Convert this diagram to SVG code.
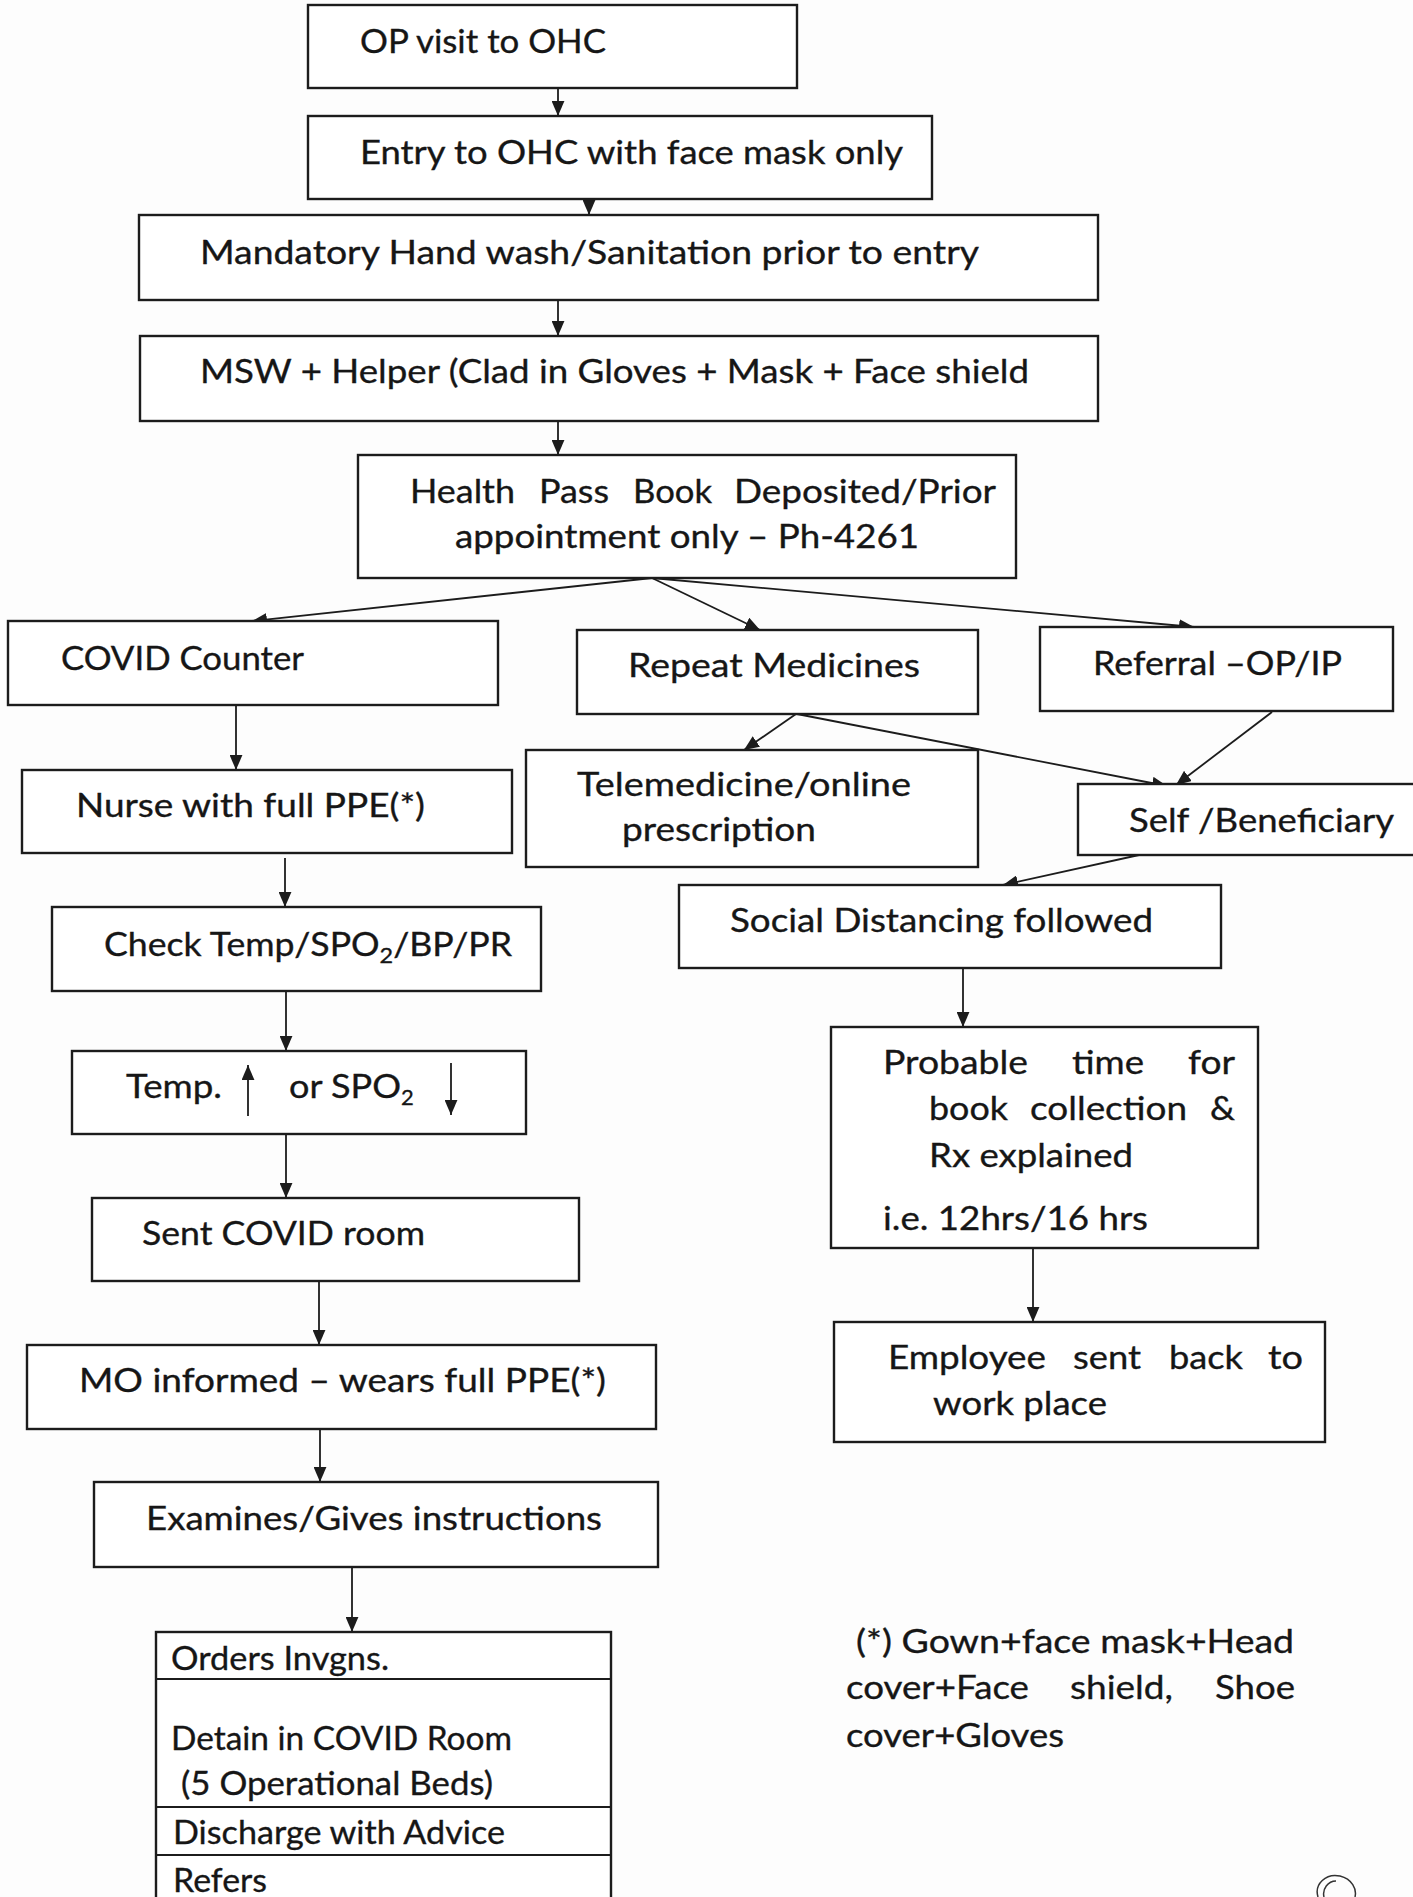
<svg xmlns="http://www.w3.org/2000/svg" width="1413" height="1897" viewBox="0 0 1413 1897">
<defs>
<marker id="ah" viewBox="0 0 14 12" markerWidth="15" markerHeight="13" refX="14" refY="6" orient="auto" markerUnits="userSpaceOnUse">
<path d="M0,0 L14,6 L0,12 z" fill="#1c1c1c"/>
</marker>
<style>
.box{fill:#fff;stroke:#1c1c1c;stroke-width:2.4}
.ln{fill:none;stroke:#1c1c1c;stroke-width:2}
.t{font-family:Lato,"Liberation Sans",sans-serif;font-size:33.5px;fill:#161616;stroke:#161616;stroke-width:0.35}
.c{fill:none;stroke:#1c1c1c;stroke-width:1.8;marker-end:url(#ah)}
</style>
</defs>
<rect x="0" y="0" width="1413" height="1897" fill="#fdfdfd"/>
<ellipse cx="667" cy="17" rx="1.2" ry="3" fill="#c8864a"/>

<g id="connectors">
<line class="c" x1="558" y1="88" x2="558" y2="116"/>
<line class="c" x1="589" y1="199" x2="589" y2="215"/>
<line class="c" x1="558" y1="300" x2="558" y2="336"/>
<line class="c" x1="558" y1="421" x2="558" y2="455"/>
<line class="c" x1="652" y1="578" x2="252" y2="621"/>
<line class="c" x1="652" y1="578" x2="760" y2="630"/>
<line class="c" x1="652" y1="578" x2="1194" y2="627"/>
<line class="c" x1="236" y1="705" x2="236" y2="770"/>
<line class="c" x1="796" y1="714" x2="744" y2="750"/>
<line class="c" x1="797" y1="714" x2="1167" y2="786"/>
<line class="c" x1="1272" y1="712" x2="1176" y2="785"/>
<line class="c" x1="1139" y1="855" x2="1003" y2="885"/>
<line class="c" x1="285" y1="858" x2="285" y2="907"/>
<line class="c" x1="286" y1="991" x2="286" y2="1051"/>
<line class="c" x1="286" y1="1134" x2="286" y2="1198"/>
<line class="c" x1="319" y1="1281" x2="319" y2="1345"/>
<line class="c" x1="320" y1="1429" x2="320" y2="1482"/>
<line class="c" x1="352" y1="1567" x2="352" y2="1632"/>
<line class="c" x1="963" y1="968" x2="963" y2="1027"/>
<line class="c" x1="1033" y1="1248" x2="1033" y2="1322"/>
</g>

<g id="n-op-visit">
<rect class="box" x="308" y="5" width="489" height="83"/>
<text class="t" x="360" y="53" textLength="246" lengthAdjust="spacingAndGlyphs">OP visit to OHC</text>
</g>
<g id="n-entry">
<rect class="box" x="308" y="116" width="624" height="83"/>
<text class="t" x="360" y="164" textLength="543" lengthAdjust="spacingAndGlyphs">Entry to OHC with face mask only</text>
</g>
<g id="n-handwash">
<rect class="box" x="139" y="215" width="959" height="85"/>
<text class="t" x="200" y="264" textLength="779" lengthAdjust="spacingAndGlyphs">Mandatory Hand wash/Sanitation prior to entry</text>
</g>
<g id="n-msw">
<rect class="box" x="140" y="336" width="958" height="85"/>
<text class="t" x="200" y="383" textLength="829" lengthAdjust="spacingAndGlyphs">MSW + Helper (Clad in Gloves + Mask + Face shield</text>
</g>
<g id="n-passbook">
<rect class="box" x="358" y="455" width="658" height="123"/>
<text class="t" y="503"><tspan x="410" textLength="105" lengthAdjust="spacingAndGlyphs">Health</tspan> <tspan x="539" textLength="70" lengthAdjust="spacingAndGlyphs">Pass</tspan> <tspan x="633" textLength="79" lengthAdjust="spacingAndGlyphs">Book</tspan> <tspan x="734" textLength="262" lengthAdjust="spacingAndGlyphs">Deposited/Prior</tspan></text>
<text class="t" x="455" y="548" textLength="464" lengthAdjust="spacingAndGlyphs">appointment only – Ph-4261</text>
</g>
<g id="n-covid-counter">
<rect class="box" x="8" y="621" width="490" height="84"/>
<text class="t" x="61" y="670" textLength="243" lengthAdjust="spacingAndGlyphs">COVID Counter</text>
</g>
<g id="n-repeat">
<rect class="box" x="577" y="630" width="401" height="84"/>
<text class="t" x="628" y="677" textLength="292" lengthAdjust="spacingAndGlyphs">Repeat Medicines</text>
</g>
<g id="n-referral">
<rect class="box" x="1040" y="627" width="353" height="84"/>
<text class="t" x="1093" y="675" textLength="249" lengthAdjust="spacingAndGlyphs">Referral –OP/IP</text>
</g>
<g id="n-nurse">
<rect class="box" x="22" y="770" width="490" height="83"/>
<text class="t" x="76" y="817" textLength="349" lengthAdjust="spacingAndGlyphs">Nurse with full PPE(*)</text>
</g>
<g id="n-telemedicine">
<rect class="box" x="526" y="750" width="452" height="117"/>
<text class="t" x="577" y="796" textLength="334" lengthAdjust="spacingAndGlyphs">Telemedicine/online</text>
<text class="t" x="622" y="841" textLength="194" lengthAdjust="spacingAndGlyphs">prescription</text>
</g>
<g id="n-self">
<rect class="box" x="1078" y="784" width="345" height="71"/>
<text class="t" x="1129" y="832" textLength="265" lengthAdjust="spacingAndGlyphs">Self /Beneficiary</text>
</g>
<g id="n-check">
<rect class="box" x="52" y="907" width="489" height="84"/>
<text class="t" x="104" y="956" textLength="408" lengthAdjust="spacingAndGlyphs">Check Temp/SPO<tspan dy="7" font-size="22">2</tspan><tspan dy="-7">/BP/PR</tspan></text>
</g>
<g id="n-temp">
<rect class="box" x="72" y="1051" width="454" height="83"/>
<text class="t" y="1098"><tspan x="126" textLength="96" lengthAdjust="spacingAndGlyphs">Temp.</tspan><tspan x="289" textLength="112" lengthAdjust="spacingAndGlyphs">or SPO</tspan><tspan dy="7" font-size="22">2</tspan></text>
<line class="c" x1="248" y1="1116" x2="248" y2="1065"/>
<line class="c" x1="451" y1="1063" x2="451" y2="1115"/>
</g>
<g id="n-sent-room">
<rect class="box" x="92" y="1198" width="487" height="83"/>
<text class="t" x="142" y="1245" textLength="283" lengthAdjust="spacingAndGlyphs">Sent COVID room</text>
</g>
<g id="n-mo">
<rect class="box" x="27" y="1345" width="629" height="84"/>
<text class="t" x="79" y="1392" textLength="527" lengthAdjust="spacingAndGlyphs">MO informed – wears full PPE(*)</text>
</g>
<g id="n-examines">
<rect class="box" x="94" y="1482" width="564" height="85"/>
<text class="t" x="146" y="1530" textLength="456" lengthAdjust="spacingAndGlyphs">Examines/Gives instructions</text>
</g>
<g id="n-actions">
<rect class="box" x="156" y="1632" width="455" height="290"/>
<line class="ln" x1="156" y1="1679" x2="611" y2="1679"/>
<line class="ln" x1="156" y1="1807" x2="611" y2="1807"/>
<line class="ln" x1="156" y1="1855" x2="611" y2="1855"/>
<text class="t" x="171" y="1670" textLength="218" lengthAdjust="spacingAndGlyphs">Orders Invgns.</text>
<text class="t" x="171" y="1750" textLength="341" lengthAdjust="spacingAndGlyphs">Detain in COVID Room</text>
<text class="t" x="181" y="1795" textLength="312" lengthAdjust="spacingAndGlyphs">(5 Operational Beds)</text>
<text class="t" x="173" y="1844" textLength="332" lengthAdjust="spacingAndGlyphs">Discharge with Advice</text>
<text class="t" x="173" y="1892" textLength="94" lengthAdjust="spacingAndGlyphs">Refers</text>
</g>
<g id="n-social">
<rect class="box" x="679" y="885" width="542" height="83"/>
<text class="t" x="730" y="932" textLength="423" lengthAdjust="spacingAndGlyphs">Social Distancing followed</text>
</g>
<g id="n-probable">
<rect class="box" x="831" y="1027" width="427" height="221"/>
<text class="t" y="1074"><tspan x="883" textLength="145" lengthAdjust="spacingAndGlyphs">Probable</tspan> <tspan x="1072" textLength="72" lengthAdjust="spacingAndGlyphs">time</tspan> <tspan x="1188" textLength="47" lengthAdjust="spacingAndGlyphs">for</tspan></text>
<text class="t" y="1120"><tspan x="929" textLength="79" lengthAdjust="spacingAndGlyphs">book</tspan> <tspan x="1030" textLength="157" lengthAdjust="spacingAndGlyphs">collection</tspan> <tspan x="1210" textLength="25" lengthAdjust="spacingAndGlyphs">&amp;</tspan></text>
<text class="t" x="929" y="1167" textLength="204" lengthAdjust="spacingAndGlyphs">Rx explained</text>
<text class="t" x="883" y="1230" textLength="265" lengthAdjust="spacingAndGlyphs">i.e. 12hrs/16 hrs</text>
</g>
<g id="n-employee">
<rect class="box" x="834" y="1322" width="491" height="120"/>
<text class="t" y="1369"><tspan x="888" textLength="158" lengthAdjust="spacingAndGlyphs">Employee</tspan> <tspan x="1073" textLength="68" lengthAdjust="spacingAndGlyphs">sent</tspan> <tspan x="1169" textLength="74" lengthAdjust="spacingAndGlyphs">back</tspan> <tspan x="1268" textLength="35" lengthAdjust="spacingAndGlyphs">to</tspan></text>
<text class="t" x="933" y="1415" textLength="174" lengthAdjust="spacingAndGlyphs">work place</text>
</g>
<g id="footnote">
<text class="t" x="856" y="1653" textLength="438" lengthAdjust="spacingAndGlyphs">(*) Gown+face mask+Head</text>
<text class="t" y="1699"><tspan x="846" textLength="183" lengthAdjust="spacingAndGlyphs">cover+Face</tspan> <tspan x="1070" textLength="103" lengthAdjust="spacingAndGlyphs">shield,</tspan> <tspan x="1215" textLength="80" lengthAdjust="spacingAndGlyphs">Shoe</tspan></text>
<text class="t" x="846" y="1747" textLength="218" lengthAdjust="spacingAndGlyphs">cover+Gloves</text>
</g>
<path d="M1318,1897 C1314,1884 1326,1873 1340,1876 C1352,1879 1357,1889 1355,1897 M1324,1897 C1322,1889 1328,1881 1336,1881" fill="none" stroke="#333" stroke-width="1.5"/>
</svg>
